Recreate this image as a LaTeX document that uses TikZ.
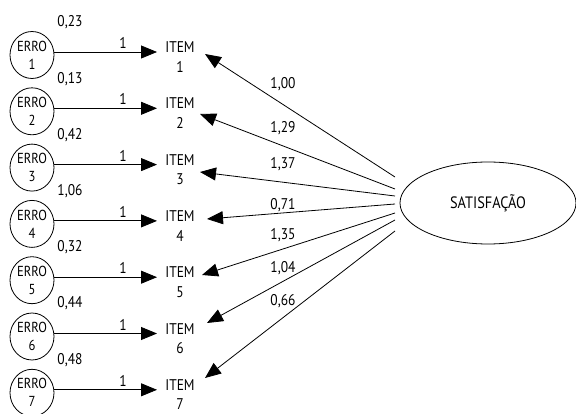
\documentclass[tikz,border=0pt]{standalone}
\usepackage{fontspec}
\setmainfont{PT Sans}[FakeStretch=0.87]
\usetikzlibrary{arrows.meta,calc,shapes.geometric}
\begin{document}
\begin{tikzpicture}[x=1pt,y=-1pt,
  line width=0.8pt,
  every node/.style={font=\fontsize{15.5}{17}\selectfont, inner sep=1pt},
  erro/.style={draw, ellipse, minimum width=44pt, minimum height=47pt, inner sep=0pt, align=center, font=\fontsize{14.5}{18}\selectfont},
  itemn/.style={align=center, inner sep=2pt, font=\fontsize{15.5}{19.5}\selectfont},
  arr/.style={-{Triangle[length=16pt,width=13pt]}},
  lbl/.style={inner sep=0pt}]
\useasboundingbox (0,0) rectangle (576,414);
\clip (0,0) rectangle (576,414);
% satisfaction
\node[draw, ellipse, minimum width=176pt, minimum height=82pt, inner sep=0pt, font=\fontsize{16.5}{18}\selectfont] (sat) at (488,203) {SATISFAÇÃO};
\foreach \i/\v/\vy in {1/{0,23}/22, 2/{0,13}/79, 3/{0,42}/135, 4/{1,06}/191, 5/{0,32}/247, 6/{0,44}/303, 7/{0,48}/360}{
  \pgfmathsetmacro{\ay}{52+56.3*(\i-1)}
  \node[erro] (e\i) at (32,\ay+3) {ERRO\\\i};
  \node[itemn] (it\i) at (180,\ay+5) {ITEM\\\i};
  \coordinate (a\i) at (e\i.east |- 0,\ay);
  \coordinate (b\i) at (157,\ay);
  \draw[arr] (a\i) -- (b\i);
  \node[lbl] at (123,\ay-9) {1};
  \node[lbl] at (70,\vy) {\v};
}
% loadings
\foreach \i/\sy/\tx/\ty/\l/\ly in {1/177/205/54/{1,00}/84, 2/189/200/114/{1,29}/128, 3/196/200/172/{1,37}/164, 4/204/207/219/{0,71}/205, 5/213/202/275/{1,35}/235, 6/220/207/323/{1,04}/268, 7/231/205/378/{0,66}/301}{
  \coordinate (s\i) at (395,\sy);
  \coordinate (t\i) at (\tx,\ty);
  \draw[arr] (s\i) -- (t\i);
  \node[lbl] at (283,\ly) {\l};
}
\end{tikzpicture}
\end{document}
